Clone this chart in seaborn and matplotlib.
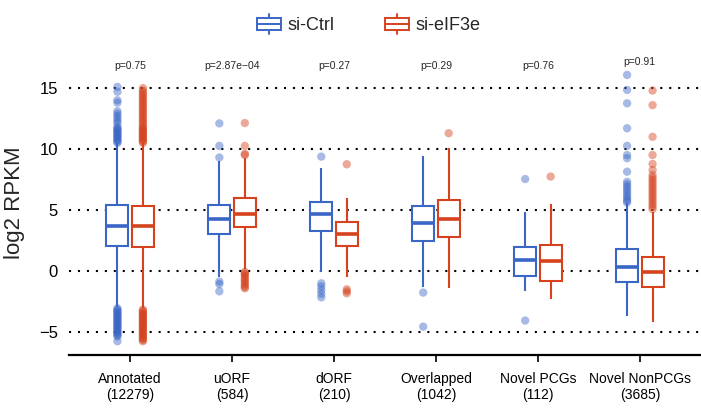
import numpy as np
import pandas as pd
import matplotlib
matplotlib.use("Agg")
import matplotlib.pyplot as plt
import seaborn as sns
from matplotlib.legend_handler import HandlerBase
from matplotlib.patches import Rectangle, Patch
from matplotlib.lines import Line2D

# categories on the x axis and the two conditions
categories = ["Annotated\n(12279)", "uORF\n(584)", "dORF\n(210)",
              "Overlapped\n(1042)", "Novel PCGs\n(112)", "Novel NonPCGs\n(3685)"]
conditions = ["si-Ctrl", "si-eIF3e"]
p_labels = ["p=0.75", "p=2.87e\u221204", "p=0.27", "p=0.29", "p=0.76", "p=0.91"]

# five-number summaries (lower whisker, Q1, median, Q3, upper whisker)
ctrl_whislo = [-3.0, -0.5, -0.13, -1.31, -1.64, -3.7]
ctrl_q1 = [2.03, 2.98, 3.29, 2.47, -0.43, -0.9]
ctrl_med = [3.7, 4.25, 4.63, 3.89, 0.88, 0.28]
ctrl_q3 = [5.4, 5.42, 5.67, 5.35, 1.97, 1.76]
ctrl_whishi = [10.45, 9.05, 8.47, 9.45, 4.85, 5.53]

eif_whislo = [-3.1, 0.1, -0.55, -1.45, -2.35, -4.19]
eif_q1 = [1.92, 3.6, 2.06, 2.8, -0.82, -1.31]
eif_med = [3.65, 4.63, 3.01, 4.28, 0.77, -0.13]
eif_q3 = [5.35, 5.95, 4.03, 5.81, 2.11, 1.15]
eif_whishi = [10.45, 9.23, 5.95, 10.06, 5.48, 4.8]

# outliers (one list per category)
ctrl_outliers = [
    [10.5, 10.6, 10.7, 10.8, 10.9, 11.0, 11.1, 11.2, 11.3, 11.4, 11.5, 11.6, 11.7, 11.8,
     12.1, 12.3, 12.5, 12.7, 12.9, 13.1, 13.8, 14.0, 14.7, 15.1,
     -3.1, -3.2, -3.3, -3.4, -3.5, -3.6, -3.7, -3.8, -3.9, -4.0, -4.1, -4.2, -4.3, -4.4,
     -4.5, -4.6, -4.7, -4.8, -4.9, -5.0, -5.1, -5.2, -5.3, -5.4, -5.8],
    [12.1, 10.25, 9.3, -0.9, -1.1, -1.7],
    [9.37, -1.04, -1.3, -1.6, -1.9, -2.19],
    [-1.8, -4.6],
    [7.53, -4.1],
    [16.08, 14.85, 13.75, 11.7, 10.25, 9.5, 9.24, 8.13, 7.3, 7.1, 6.9, 6.7, 6.5,
     6.3, 6.1, 5.9, 5.75, 5.6],
]
eif_outliers = [
    [10.5, 10.6, 10.7, 10.8, 10.9, 11.0, 11.1, 11.2, 11.3, 11.4, 11.5, 11.6, 11.7, 11.8,
     11.95, 12.1, 12.25, 12.4, 12.55, 12.7, 12.85, 13.0, 13.15, 13.3, 13.45, 13.6,
     13.75, 13.9, 14.05, 14.2, 14.35, 14.5, 14.65, 14.8, 15.0,
     -3.2, -3.3, -3.4, -3.5, -3.6, -3.7, -3.8, -3.9, -4.0, -4.1, -4.2, -4.3, -4.4,
     -4.5, -4.6, -4.7, -4.8, -4.9, -5.0, -5.1, -5.2, -5.3, -5.4, -5.5, -5.6, -5.7, -5.8],
    [12.13, 10.25, 9.6, 9.5, -0.1, -0.2, -0.3, -0.45, -0.6, -0.75, -0.9, -1.05,
     -1.2, -1.35, -1.45],
    [8.74, -1.53, -1.7, -1.86],
    [11.29],
    [7.73],
    [14.8, 13.6, 11.0, 9.5, 8.77, 8.27, 7.86, 7.65, 7.45, 7.25, 7.05, 6.85, 6.65,
     6.45, 6.25, 6.05, 5.85, 5.65, 5.45, 5.25, 5.05],
]

colors = {"si-Ctrl": "#3A66C6", "si-eIF3e": "#D5421D"}

box_stats = {
    "si-Ctrl": [ctrl_whislo, ctrl_q1, ctrl_med, ctrl_q3, ctrl_whishi],
    "si-eIF3e": [eif_whislo, eif_q1, eif_med, eif_q3, eif_whishi],
}
outliers = {"si-Ctrl": ctrl_outliers, "si-eIF3e": eif_outliers}

box_rows = []
for cond, stats in box_stats.items():
    for i, cat in enumerate(categories):
        for s in stats:
            box_rows.append({"group": cat, "condition": cond, "value": s[i]})
box_df = pd.DataFrame(box_rows)

BOX_WIDTH = 0.5
out_rows = []
for h, cond in enumerate(conditions):
    for i, vals in enumerate(outliers[cond]):
        for v in vals:
            out_rows.append({"pos": i + (h - 0.5) * BOX_WIDTH / 2,
                             "condition": cond, "value": v})
out_df = pd.DataFrame(out_rows)


class BoxIconHandler(HandlerBase):
    def create_artists(self, legend, orig_handle, xdescent, ydescent,
                       width, height, fontsize, trans):
        c = orig_handle.get_edgecolor()
        x0, y0 = -xdescent, -ydescent
        stub = 0.2 * height
        box = Rectangle((x0, y0 + stub), width, height - 2 * stub,
                        facecolor="white", edgecolor=c, lw=1.4, transform=trans)
        mid = y0 + height / 2
        med = Line2D([x0, x0 + width], [mid, mid], color=c, lw=1.4, transform=trans)
        xm = x0 + width / 2
        lo = Line2D([xm, xm], [y0, y0 + stub], color=c, lw=1.4, transform=trans)
        hi = Line2D([xm, xm], [y0 + height - stub, y0 + height], color=c, lw=1.4,
                    transform=trans)
        return [box, med, lo, hi]


sns.set_theme(style="white")
plt.rcParams["font.family"] = ["Liberation Sans", "DejaVu Sans"]

fig = plt.figure(figsize=(7.01, 4.08), dpi=100)
ax = fig.add_axes([69 / 701, 53 / 408, 632 / 701, 305 / 408])

for cond in conditions:
    sns.boxplot(data=box_df[box_df["condition"] == cond], x="group", y="value",
                hue="condition", order=categories, hue_order=conditions,
                palette={c: "white" for c in conditions}, saturation=1,
                linecolor=colors[cond], linewidth=1.5, width=BOX_WIDTH, gap=0.14,
                dodge=True, showcaps=False, showfliers=False,
                medianprops={"linewidth": 2.6}, legend=False, ax=ax)

sns.scatterplot(data=out_df, x="pos", y="value", hue="condition",
                hue_order=conditions, palette=colors, alpha=0.45, s=36,
                linewidth=0, legend=False, ax=ax, zorder=1)

# p-values above each group
for i, lab in enumerate(p_labels):
    top = max(max(ctrl_outliers[i] + [ctrl_whishi[i]]), max(eif_outliers[i] + [eif_whishi[i]]))
    ax.text(i, max(16.8, top + 1.05), lab, ha="center", va="center", fontsize=7.5)

ax.set_xlim(-0.6, 5.6)
ax.set_ylim(-6.93, 18.13)
ax.set_yticks([-5, 0, 5, 10, 15])
ax.set_xticks(range(len(categories)))
ax.set_xticklabels(categories)
ax.yaxis.grid(True, color="black", linestyle=(0, (1, 3.3)), linewidth=1.5)
ax.set_axisbelow(True)

for side in ["top", "right", "left"]:
    ax.spines[side].set_visible(False)
ax.spines["bottom"].set_color("black")
ax.spines["bottom"].set_linewidth(1.6)

ax.tick_params(axis="y", length=0, pad=8, labelsize=12, colors="black")
ax.tick_params(axis="x", bottom=True, length=5, width=1.2, pad=7, labelsize=10,
               colors="black")
ax.set_xlabel("")
ax.set_ylabel("log2 RPKM", fontsize=16, labelpad=10)

handles = [Patch(facecolor="white", edgecolor=colors[c]) for c in conditions]
fig.legend(handles, conditions, loc="center", bbox_to_anchor=(368.5 / 701, 1 - 24 / 408),
           ncol=2, frameon=False, fontsize=13, handlelength=1.33, handleheight=1.4,
           handletextpad=0.35, columnspacing=2.8, borderpad=0,
           handler_map={Patch: BoxIconHandler()})

fig.savefig("out.png", dpi=100)
